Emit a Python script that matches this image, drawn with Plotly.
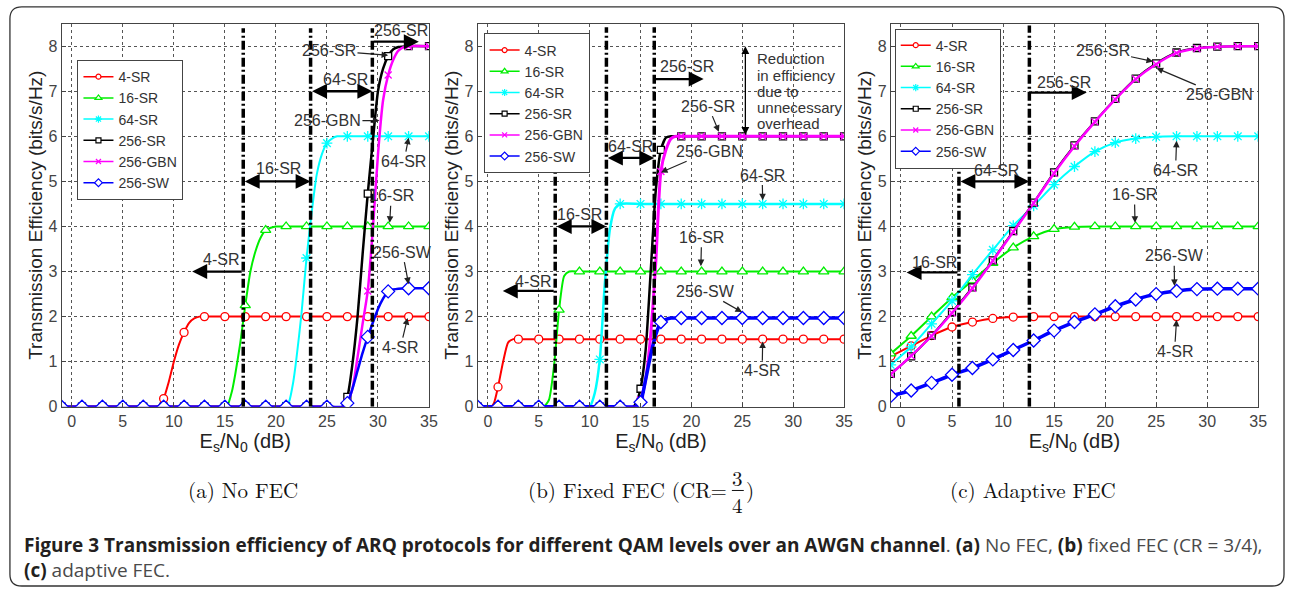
import plotly.graph_objects as go

# ---------------- data ----------------
SERIES = ["4-SR", "16-SR", "64-SR", "256-SR", "256-GBN", "256-SW"]
MX = [-1, 1, 3, 5, 7, 9, 11, 13, 15, 17, 19, 21, 23, 25, 27, 29, 31, 33, 35]
X_TICKS = [0, 5, 10, 15, 20, 25, 30, 35]
Y_TICKS = [0, 1, 2, 3, 4, 5, 6, 7, 8]

# Panel (a) No FEC: values at marker positions MX
A_4SR = [0, 0, 0, 0, 0, 0.18, 1.65, 2.0, 2, 2, 2, 2, 2, 2, 2, 2, 2, 2, 2]
A_16SR = [0, 0, 0, 0, 0, 0, 0, 0, 0, 2.25, 3.92, 4, 4, 4, 4, 4, 4, 4, 4]
A_64SR = [0, 0, 0, 0, 0, 0, 0, 0, 0, 0, 0, 0.02, 3.3, 5.85, 6, 6, 6, 6, 6]
A_256SR = [0, 0, 0, 0, 0, 0, 0, 0, 0, 0, 0, 0, 0, 0, 0.22, 4.73, 7.78, 8, 8]
A_256GBN = [0, 0, 0, 0, 0, 0, 0, 0, 0, 0, 0, 0, 0, 0, 0.1, 2.57, 7.36, 8, 8]
A_256SW = [0, 0, 0, 0, 0, 0, 0, 0, 0, 0, 0, 0, 0, 0, 0.08, 1.55, 2.56, 2.63, 2.63]
# extra curve points (between markers) for panel (a)
A_4SR_EX = [8.3, 8.7, 9.5, 10, 10.5, 11.5, 12, 12.5]
A_4SR_EY = [0, 0.06, 0.55, 1.0, 1.38, 1.86, 1.96, 2.0]
A_16SR_EX = [15.2, 15.7, 16, 16.5, 17.5, 18, 18.5, 19.5, 20]
A_16SR_EY = [0, 0.35, 0.7, 1.4, 3.0, 3.45, 3.75, 3.97, 4.0]
A_64SR_EX = [21.3, 21.7, 22, 22.5, 23.5, 24, 24.5, 25.5, 26]
A_64SR_EY = [0.12, 0.55, 1.05, 2.05, 4.3, 5.15, 5.6, 5.95, 6.0]
A_256SR_EX = [26.5, 27.5, 28, 28.5, 29.5, 30, 30.5, 31.5, 32]
A_256SR_EY = [0, 0.95, 2.0, 3.4, 5.9, 7.0, 7.5, 7.93, 7.98]
A_256GBN_EX = [26.6, 27.5, 28, 28.5, 29.5, 30, 30.5, 31.5, 32, 32.5]
A_256GBN_EY = [0, 0.4, 1.1, 1.85, 3.95, 5.6, 6.8, 7.7, 7.9, 7.98]
A_256SW_EX = [26.6, 27.5, 28, 28.5, 29.5, 30, 30.5, 31.5, 32]
A_256SW_EY = [0, 0.4, 0.8, 1.2, 1.87, 2.17, 2.4, 2.6, 2.62]

# Panel (b) Fixed FEC
B_4SR = [0, 0.44, 1.5, 1.5, 1.5, 1.5, 1.5, 1.5, 1.5, 1.5, 1.5, 1.5, 1.5, 1.5, 1.5, 1.5, 1.5, 1.5, 1.5]
B_16SR = [0, 0, 0, 0, 2.15, 3, 3, 3, 3, 3, 3, 3, 3, 3, 3, 3, 3, 3, 3]
B_64SR = [0, 0, 0, 0, 0, 0, 1.05, 4.5, 4.5, 4.5, 4.5, 4.5, 4.5, 4.5, 4.5, 4.5, 4.5, 4.5, 4.5]
B_256SR = [0, 0, 0, 0, 0, 0, 0, 0, 0.4, 5.7, 6, 6, 6, 6, 6, 6, 6, 6, 6]
B_256GBN = [0, 0, 0, 0, 0, 0, 0, 0, 0.15, 5.22, 6, 6, 6, 6, 6, 6, 6, 6, 6]
B_256SW = [0, 0, 0, 0, 0, 0, 0, 0, 0.1, 1.88, 1.97, 1.97, 1.97, 1.97, 1.97, 1.97, 1.97, 1.97, 1.97]
B_4SR_EX = [0.3, 0.6, 1.5, 2, 2.5]
B_4SR_EY = [0, 0.08, 1.0, 1.43, 1.5]
B_16SR_EX = [5.5, 6, 6.5, 7.5, 8]
B_16SR_EY = [0, 0.15, 0.9, 2.9, 3.0]
B_64SR_EX = [10, 10.5, 11.5, 12, 12.5]
B_64SR_EY = [0, 0.3, 2.75, 3.95, 4.4]
B_256SR_EX = [14.3, 14.6, 15.5, 16, 16.5, 17.5, 18]
B_256SR_EY = [0, 0.1, 1.25, 3.0, 4.8, 5.97, 6.0]
B_256GBN_EX = [14.5, 15.5, 16, 16.5, 17.5, 18, 18.5]
B_256GBN_EY = [0, 0.6, 1.6, 3.2, 5.7, 5.95, 6.0]
B_256SW_EX = [14.5, 15.5, 16, 16.5, 17.5, 18]
B_256SW_EY = [0, 0.6, 1.15, 1.6, 1.94, 1.97]

# Panel (c) Adaptive FEC
C_4SR = [1.12, 1.35, 1.58, 1.77, 1.88, 1.96, 1.99, 2, 2, 2, 2, 2, 2, 2, 2, 2, 2, 2, 2]
C_16SR = [1.18, 1.57, 2.0, 2.42, 2.8, 3.19, 3.53, 3.78, 3.94, 3.99, 4, 4, 4, 4, 4, 4, 4, 4, 4]
C_64SR = [0.93, 1.33, 1.84, 2.35, 2.93, 3.48, 4.02, 4.46, 4.93, 5.33, 5.66, 5.86, 5.95, 5.99, 6, 6, 6, 6, 6]
C_256SR = [0.73, 1.12, 1.58, 2.1, 2.65, 3.25, 3.9, 4.53, 5.2, 5.8, 6.33, 6.83, 7.28, 7.62, 7.86, 7.96, 7.99, 8, 8]
C_256GBN = [0.72, 1.13, 1.57, 2.08, 2.63, 3.24, 3.88, 4.52, 5.18, 5.78, 6.32, 6.82, 7.27, 7.6, 7.85, 7.95, 7.99, 8, 8]
C_256SW = [0.24, 0.36, 0.53, 0.71, 0.86, 1.05, 1.26, 1.47, 1.69, 1.88, 2.05, 2.23, 2.38, 2.5, 2.57, 2.61, 2.62, 2.62, 2.62]

# Threshold lines (x position, top y)
A_THR_X = [16.8, 23.4, 29.45]
A_THR_TOP = [8.4, 8.4, 8.4]
B_THR_X = [6.62, 11.65, 16.35]
B_THR_TOP = [5.35, 8.42, 8.42]
C_THR_X = [5.68, 12.58]
C_THR_TOP = [5.44, 8.46]

# ---------------- styling ----------------
W, H = 1295, 596
FONT = "Liberation Sans, Arial, sans-serif"
COLORS = {"4-SR": "#ff0000", "16-SR": "#00ee00", "64-SR": "#00ffff",
          "256-SR": "#000000", "256-GBN": "#ff00ff", "256-SW": "#0000ff"}
SYMBOLS = {"4-SR": "circle", "16-SR": "triangle-up", "64-SR": "asterisk-open",
           "256-SR": "square", "256-GBN": "x-thin-open", "256-SW": "diamond"}
MSIZE = {"4-SR": 8, "16-SR": 9, "64-SR": 9, "256-SR": 7, "256-GBN": 7, "256-SW": 10}
LSIZE = {"4-SR": 5, "16-SR": 6, "64-SR": 6, "256-SR": 5, "256-GBN": 5, "256-SW": 6}
WIDTHS = {
    1: {"4-SR": 2, "16-SR": 2, "64-SR": 2, "256-SR": 2.5, "256-GBN": 2.5, "256-SW": 2.5},
    2: {"4-SR": 2, "16-SR": 2, "64-SR": 2.5, "256-SR": 2.5, "256-GBN": 3, "256-SW": 3.5},
    3: {"4-SR": 2, "16-SR": 2, "64-SR": 2, "256-SR": 2, "256-GBN": 2.5, "256-SW": 3.5},
}

def pxx(x):
    return x / W

def pyy(y):
    return 1 - y / H

PANELS = {
    1: dict(vals=[A_4SR, A_16SR, A_64SR, A_256SR, A_256GBN, A_256SW],
            ex=[A_4SR_EX, A_16SR_EX, A_64SR_EX, A_256SR_EX, A_256GBN_EX, A_256SW_EX],
            ey=[A_4SR_EY, A_16SR_EY, A_64SR_EY, A_256SR_EY, A_256GBN_EY, A_256SW_EY],
            xd=[62, 432], yd=[24, 413], thr=(A_THR_X, A_THR_TOP), legend=(78, 61)),
    2: dict(vals=[B_4SR, B_16SR, B_64SR, B_256SR, B_256GBN, B_256SW],
            ex=[B_4SR_EX, B_16SR_EX, B_64SR_EX, B_256SR_EX, B_256GBN_EX, B_256SW_EX],
            ey=[B_4SR_EY, B_16SR_EY, B_64SR_EY, B_256SR_EY, B_256GBN_EY, B_256SW_EY],
            xd=[481, 850], yd=[24, 413], thr=(B_THR_X, B_THR_TOP), legend=(487, 34)),
    3: dict(vals=[C_4SR, C_16SR, C_64SR, C_256SR, C_256GBN, C_256SW],
            ex=None, ey=None,
            xd=[897, 1267], yd=[24, 413], thr=(C_THR_X, C_THR_TOP), legend=(901, 29)),
}

fig = go.Figure()
shapes = []
annotations = []

for p, cfg in PANELS.items():
    xr = "x" if p == 1 else f"x{p}"
    yr = "y" if p == 1 else f"y{p}"
    lg = "legend" if p == 1 else f"legend{p}"
    for i, name in enumerate(SERIES):
        yv = cfg["vals"][i]
        if cfg["ex"] is not None:
            pts = sorted(zip(MX + cfg["ex"][i], yv + cfg["ey"][i]))
            lx = [a for a, _ in pts]
            ly = [b for _, b in pts]
        else:
            lx, ly = MX, yv
        col = COLORS[name]
        fig.add_trace(go.Scatter(
            x=lx, y=ly, mode="lines", xaxis=xr, yaxis=yr, showlegend=False,
            line=dict(color=col, width=WIDTHS[p][name], shape="spline", smoothing=0.6),
            hoverinfo="skip"))
        open_sym = SYMBOLS[name] in ("asterisk-open", "x-thin-open")
        fig.add_trace(go.Scatter(
            x=MX, y=yv, mode="markers", xaxis=xr, yaxis=yr, showlegend=False,
            marker=dict(symbol=SYMBOLS[name], size=MSIZE[name],
                        color=col if open_sym else "white",
                        line=dict(color=col, width=1.3)),
            hoverinfo="skip"))
        # legend entry
        fig.add_trace(go.Scatter(
            x=[None], y=[None], mode="lines+markers", name=name, legend=lg,
            xaxis=xr, yaxis=yr,
            line=dict(color=col, width=1.5),
            marker=dict(symbol=SYMBOLS[name], size=LSIZE[name],
                        color=col if open_sym else "white",
                        line=dict(color=col, width=1.2))))
    thx, tht = cfg["thr"]
    for tx, tt in zip(thx, tht):
        shapes.append(dict(type="line", xref=xr, yref=yr, x0=tx, x1=tx, y0=0, y1=tt,
                           line=dict(color="black", width=3.5, dash="9px,3px,2px,3px"),
                           layer="above"))

# ---------------- annotations ----------------
TXT = dict(size=16, color="#333333", family=FONT)
TXT_S = dict(size=15, color="#333333", family=FONT)

def refs(p):
    return ("x" if p == 1 else f"x{p}", "y" if p == 1 else f"y{p}")

def range_arrow(p, x0, x1, y, both=False):
    xr, yr = refs(p)
    d = dict(x=x1, y=y, ax=x0, ay=y, xref=xr, yref=yr, axref=xr, ayref=yr,
             text="", showarrow=True, arrowhead=2, arrowsize=1.3, arrowwidth=2.3,
             arrowcolor="black", standoff=0, startstandoff=0)
    if both:
        d.update(arrowside="end+start", startarrowhead=2, startarrowsize=1.3)
    annotations.append(d)

def label(p, x, y, t, xanchor="center", font=TXT):
    xr, yr = refs(p)
    annotations.append(dict(x=x, y=y, xref=xr, yref=yr, text=t, showarrow=False,
                            font=font, xanchor=xanchor, yanchor="middle"))

def pointer(p, tx, ty, hx, hy, t):
    xr, yr = refs(p)
    annotations.append(dict(x=hx, y=hy, ax=tx, ay=ty, xref=xr, yref=yr, axref=xr, ayref=yr,
                            text=t, showarrow=True, arrowhead=2, arrowsize=1.1,
                            arrowwidth=1.2, arrowcolor="#222", font=TXT, standoff=0))

# panel (a)
range_arrow(1, 16.8, 11.8, 3.0); label(1, 14.6, 3.26, "4-SR")
range_arrow(1, 16.8, 23.4, 5.0, True); label(1, 20.3, 5.28, "16-SR")
range_arrow(1, 23.4, 29.45, 7.0, True); label(1, 26.85, 7.25, "64-SR")
range_arrow(1, 29.45, 34.0, 8.1); label(1, 32.3, 8.35, "256-SR")
pointer(1, 25.2, 7.9, 31.0, 7.8, "256-SR")
pointer(1, 25.05, 6.35, 30.15, 6.35, "256-GBN")
pointer(1, 32.55, 5.44, 33.0, 5.97, "64-SR")
pointer(1, 31.3, 4.68, 31.15, 4.08, "16-SR")
pointer(1, 32.4, 3.43, 33.0, 2.72, "256-SW")
pointer(1, 32.2, 1.31, 32.9, 1.97, "4-SR")

# panel (b)
range_arrow(2, 6.62, 1.47, 2.57); label(2, 4.4, 2.78, "4-SR")
range_arrow(2, 6.62, 11.65, 4.0, True); label(2, 9.04, 4.27, "16-SR")
range_arrow(2, 11.65, 16.35, 5.52, True); label(2, 14.04, 5.77, "64-SR")
range_arrow(2, 16.35, 21.2, 7.27); label(2, 19.6, 7.55, "256-SR")
annotations.append(dict(x=25.3, y=8.0, ax=25.3, ay=6.0, xref="x2", yref="y2", axref="x2", ayref="y2",
                        text="", showarrow=True, arrowhead=2, arrowsize=1.2, arrowwidth=1.3,
                        arrowcolor="black", arrowside="end+start", startarrowhead=2,
                        startarrowsize=1.2, standoff=0, startstandoff=0))
for t, yy in zip(["Reduction", "in efficiency", "due to", "unnecessary", "overhead"],
                 [7.72, 7.36, 6.99, 6.63, 6.28]):
    label(2, 26.2, yy, t, xanchor="left", font=TXT_S)
pointer(2, 21.65, 6.67, 22.7, 6.1, "256-SR")
pointer(2, 21.8, 5.67, 17.0, 5.2, "256-GBN")
pointer(2, 26.95, 5.14, 27.0, 4.58, "64-SR")
pointer(2, 21.0, 3.76, 20.93, 3.12, "16-SR")
pointer(2, 21.4, 2.56, 24.97, 2.1, "256-SW")
pointer(2, 26.95, 0.8, 27.0, 1.45, "4-SR")

# panel (c)
range_arrow(3, 5.68, 0.55, 2.98); label(3, 3.3, 3.2, "16-SR")
range_arrow(3, 5.68, 12.58, 5.0, True); label(3, 9.37, 5.25, "64-SR")
range_arrow(3, 12.58, 18.2, 6.97); label(3, 16.0, 7.2, "256-SR")
pointer(3, 19.75, 7.9, 24.7, 7.66, "256-SR")
pointer(3, 31.2, 6.92, 25.04, 7.51, "256-GBN")
pointer(3, 26.9, 5.24, 27.0, 5.9, "64-SR")
pointer(3, 22.87, 4.71, 22.93, 4.08, "16-SR")
pointer(3, 26.76, 3.35, 26.8, 2.68, "256-SW")
pointer(3, 26.8, 1.22, 27.0, 1.93, "4-SR")

# sub-captions (serif)
SERIF = dict(family="Latin Modern Roman, CMU Serif, Liberation Serif, DejaVu Serif, serif",
             size=21, color="#111")

def paper_text(x, y, t, font, xanchor="center", yanchor="middle", pad=1):
    annotations.append(dict(x=pxx(x), y=pyy(y), xref="paper", yref="paper", text=t,
                            showarrow=False, font=font, xanchor=xanchor, yanchor=yanchor,
                            borderpad=pad))

paper_text(245, 497, "(a) No FEC", SERIF)
paper_text(733, 497, "(b) Fixed FEC (CR=", SERIF, xanchor="right", pad=0)
paper_text(743, 498, "3<br>4", SERIF, pad=0)
paper_text(750, 497, ")", SERIF, xanchor="left", pad=0)
shapes.append(dict(type="line", xref="paper", yref="paper", x0=pxx(737), x1=pxx(749),
                   y0=pyy(498), y1=pyy(498), line=dict(color="#111", width=1)))
paper_text(1040, 497, "(c) Adaptive FEC", SERIF)

# figure caption
CAP = dict(family="Open Sans, sans-serif", size=19, color="#4a4a4a")
paper_text(22, 566,
           "<b><span style='color:#231f20'>Figure 3 Transmission efficiency of ARQ protocols for different "
           "QAM levels over an AWGN channel</span></b>. <b><span style='color:#231f20'>(a)</span></b> No FEC, "
           "<b><span style='color:#231f20'>(b)</span></b> fixed FEC (CR = 3/4),<br>"
           "<b><span style='color:#231f20'>(c)</span></b> adaptive FEC.", CAP, xanchor="left")
annotations[-1]["align"] = "left"

# rounded border
x0, x1, y0, y1, r = 10, 1293, 7, 595, 12
path = (f"M {pxx(x0 + r)},{pyy(y0)} L {pxx(x1 - r)},{pyy(y0)} Q {pxx(x1)},{pyy(y0)} {pxx(x1)},{pyy(y0 + r)} "
        f"L {pxx(x1)},{pyy(y1 - r)} Q {pxx(x1)},{pyy(y1)} {pxx(x1 - r)},{pyy(y1)} "
        f"L {pxx(x0 + r)},{pyy(y1)} Q {pxx(x0)},{pyy(y1)} {pxx(x0)},{pyy(y1 - r)} "
        f"L {pxx(x0)},{pyy(y0 + r)} Q {pxx(x0)},{pyy(y0)} {pxx(x0 + r)},{pyy(y0)} Z")
shapes.append(dict(type="path", xref="paper", yref="paper", path=path,
                   line=dict(color="#333", width=1.3), layer="below"))

# ---------------- axes ----------------
layout = dict(
    width=W, height=H, margin=dict(l=0, r=0, t=0, b=0),
    paper_bgcolor="white", plot_bgcolor="white",
    font=dict(family=FONT, color="#333"),
    shapes=shapes, annotations=annotations,
)
for p, cfg in PANELS.items():
    xk = "xaxis" if p == 1 else f"xaxis{p}"
    yk = "yaxis" if p == 1 else f"yaxis{p}"
    xa = "x" if p == 1 else f"x{p}"
    ya = "y" if p == 1 else f"y{p}"
    layout[xk] = dict(
        domain=[pxx(cfg["xd"][0]), pxx(cfg["xd"][1])], anchor=ya, range=[-1, 35],
        tickvals=X_TICKS, ticktext=[str(v) for v in X_TICKS],
        showgrid=True, gridcolor="#555", griddash="dot", gridwidth=1,
        showline=True, mirror=True, linecolor="#444", linewidth=1,
        ticks="inside", ticklen=4, tickcolor="#444", zeroline=False,
        tickfont=dict(size=16, color="#444", family=FONT),
        title=dict(text="E<sub>s</sub>/N<sub>0</sub> (dB)", font=dict(size=20, color="#222", family=FONT),
                   standoff=0),
    )
    layout[yk] = dict(
        domain=[pyy(cfg["yd"][1]), pyy(cfg["yd"][0])], anchor=xa, range=[0, 8.5],
        tickvals=Y_TICKS, ticktext=[str(v) for v in Y_TICKS],
        showgrid=True, gridcolor="#555", griddash="dot", gridwidth=1,
        showline=True, mirror=True, linecolor="#444", linewidth=1,
        ticks="inside", ticklen=4, tickcolor="#444", zeroline=False,
        tickfont=dict(size=16, color="#444", family=FONT),
        title=dict(text="Transmission Efficiency (bits/s/Hz)", font=dict(size=19, color="#222", family=FONT),
                   standoff=0),
    )
    lk = "legend" if p == 1 else f"legend{p}"
    lx, ly = cfg["legend"]
    layout[lk] = dict(x=pxx(lx), y=pyy(ly), xanchor="left", yanchor="top",
                      bgcolor="white", bordercolor="#444", borderwidth=1,
                      font=dict(size=14, color="#333", family=FONT),
                      itemwidth=30, tracegroupgap=0)

fig.update_layout(**layout)
fig.write_html("out.html")
